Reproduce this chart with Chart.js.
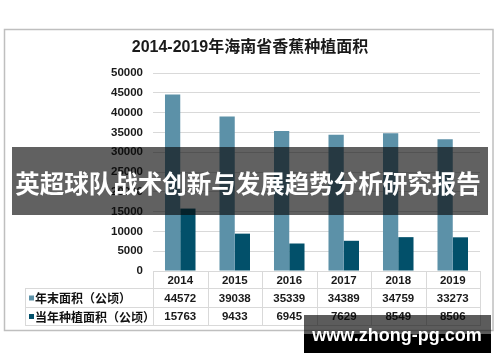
<!DOCTYPE html>
<html><head><meta charset="utf-8">
<script src="https://cdn.jsdelivr.net/npm/chart.js@4/dist/chart.umd.min.js"></script>
<style>html,body{margin:0;padding:0;background:#fff}#wrap{width:500px;height:362px;position:relative}</style>
</head><body><div id="wrap"><canvas id="c" width="500" height="362"></canvas></div>
<script>
const years = ['2014','2015','2016','2017','2018','2019'];
const endArea = [44572,39038,35339,34389,34759,33273];
const plantArea = [15763,9433,6945,7629,8549,8506];
const seriesNames = ['年末面积（公顷）','当年种植面积（公顷）'];
const yMax = 50000;
const yStep = 5000;
const titleText = '2014-2019年海南省香蕉种植面积';
const bannerText = '英超球队战术创新与发展趋势分析研究报告';
const watermarkText = 'www.zhong-pg.com';

const colors = ['#5c91a8','#02506a'];
const FONT = '"Liberation Sans", Arial, "Noto Sans CJK SC", sans-serif';
const gridCol = '#d9d9d9';

const overlayPlugin = {
  id: 'overlay',
  beforeDraw(chart) {
    const ctx = chart.ctx;
    ctx.save();
    ctx.fillStyle = '#fff';
    ctx.fillRect(0, 0, chart.width, chart.height);
    ctx.strokeStyle = '#bfbfbf';
    ctx.lineWidth = 1.5;
    ctx.strokeRect(4.5, 29.5, 488.5, 301);
    ctx.fillStyle = '#1a1a1a';
    ctx.font = 'bold 16px ' + FONT;
    ctx.textAlign = 'center';
    ctx.textBaseline = 'middle';
    ctx.fillText(titleText, 250, 48);
    ctx.restore();
  },
  afterDraw(chart) {
    const ctx = chart.ctx;
    const area = chart.chartArea;
    const xs = chart.scales.x;
    const n = years.length;
    const colW = (area.right - area.left) / n;
    const top = area.bottom;
    const r0 = top + 17, r1 = r0 + 19, r2 = r1 + 18;
    const tableLeft = 25;
    ctx.save();
    ctx.strokeStyle = gridCol;
    ctx.lineWidth = 1;
    const hl = (y, x1, x2) => { ctx.beginPath(); ctx.moveTo(x1, y + 0.5); ctx.lineTo(x2, y + 0.5); ctx.stroke(); };
    const vl = (x, y1, y2) => { ctx.beginPath(); ctx.moveTo(x + 0.5, y1); ctx.lineTo(x + 0.5, y2); ctx.stroke(); };
    hl(Math.round(top), area.left, area.right);
    hl(Math.round(r0), tableLeft, area.right);
    hl(Math.round(r1), tableLeft, area.right);
    hl(Math.round(r2), tableLeft, area.right);
    vl(tableLeft, r0, r2 + 1);
    for (let i = 0; i <= n; i++) {
      vl(Math.round(area.left + i * colW), top, r2 + 1);
    }
    ctx.fillStyle = '#1a1a1a';
    ctx.font = 'bold 11.5px ' + FONT;
    ctx.textAlign = 'center';
    ctx.textBaseline = 'middle';
    const rows = [endArea, plantArea];
    const rowC = [(r0 + r1) / 2 + 1, (r1 + r2) / 2 + 1];
    rows.forEach((arr, ri) => {
      arr.forEach((v, i) => {
        ctx.fillText(String(v), xs.getPixelForValue(i), rowC[ri]);
      });
      ctx.fillStyle = colors[ri];
      ctx.fillRect(29, rowC[ri] - 3, 5, 5);
      ctx.fillStyle = '#111';
      ctx.textAlign = 'left';
      ctx.font = 'bold 12px "Noto Sans CJK SC", sans-serif';
      ctx.fillText(seriesNames[ri], 35, rowC[ri]);
      ctx.font = 'bold 11.5px ' + FONT;
      ctx.fillStyle = '#1a1a1a';
      ctx.textAlign = 'center';
    });
    ctx.fillStyle = 'rgba(8,8,8,0.64)';
    ctx.fillRect(12, 147, 476, 68);
    ctx.fillStyle = '#ffffff';
    ctx.font = 'bold 24.5px "Noto Sans CJK SC", sans-serif';
    ctx.textAlign = 'center';
    ctx.textBaseline = 'middle';
    ctx.fillText(bannerText, 248, 184);
    ctx.fillStyle = 'rgba(8,8,8,0.66)';
    ctx.fillRect(304, 315, 187, 19);
    ctx.fillStyle = '#000';
    ctx.fillRect(304, 334, 187, 19);
    ctx.fillStyle = '#fff';
    ctx.font = 'bold 18px "Liberation Sans", Arial, sans-serif';
    ctx.fillText(watermarkText, 397, 336);
    ctx.restore();
  }
};

new Chart(document.getElementById('c'), {
  type: 'bar',
  data: {
    labels: years,
    datasets: [
      { label: seriesNames[0], data: endArea, backgroundColor: colors[0] },
      { label: seriesNames[1], data: plantArea, backgroundColor: colors[1] }
    ]
  },
  options: {
    responsive: false,
    animation: false,
    devicePixelRatio: 1,
    layout: { padding: { left: 10, right: 20, top: 73, bottom: 75 } },
    plugins: { legend: { display: false }, title: { display: false }, tooltip: { enabled: false } },
    datasets: { bar: { categoryPercentage: 0.56, barPercentage: 1.0 } },
    scales: {
      x: {
        grid: { display: false, drawTicks: false },
        border: { display: false },
        ticks: { color: '#1a1a1a', font: { family: FONT, size: 11.5, weight: 'bold' }, padding: 3, maxRotation: 0 },
        afterFit(s) { s.height = 16; }
      },
      y: {
        min: 0, max: yMax,
        grid: { color: gridCol, drawTicks: false },
        border: { display: false },
        ticks: { stepSize: yStep, color: '#1a1a1a', font: { family: FONT, size: 11.5, weight: 'bold' }, padding: 10,
          callback: (v) => String(v) },
        afterFit(s) { s.width = 143; }
      }
    }
  },
  plugins: [overlayPlugin]
});
</script>
</body></html>
